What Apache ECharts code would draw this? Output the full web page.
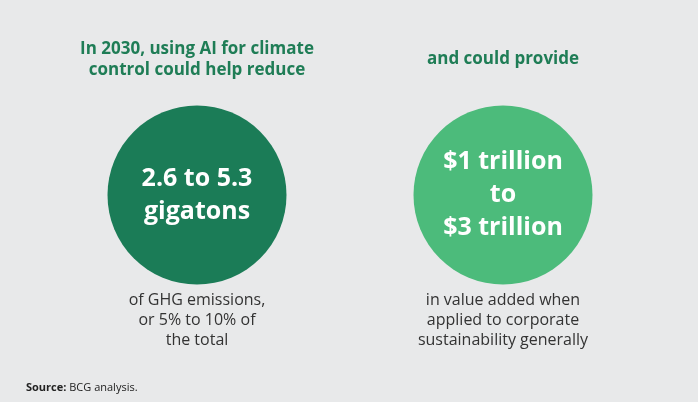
<!DOCTYPE html>
<html>
<head>
<meta charset="utf-8">
<script src="https://cdn.jsdelivr.net/npm/echarts@6/dist/echarts.min.js"></script>
<style>
  html, body { margin: 0; padding: 0; background: #e8e9ea; }
  #main { width: 698px; height: 402px; }
</style>
</head>
<body>
<div id="main"></div>
<script>
var categories = ['reduce', 'provide'];
var headlines = ['In 2030, using AI for climate\ncontrol could help reduce', 'and could provide'];
var values = ['2.6 to 5.3\ngigatons', '$1 trillion\nto\n$3 trillion'];
var captions = ['of GHG emissions,\nor 5% to 10% of\nthe total', 'in value added when\napplied to corporate\nsustainability generally'];
var colors = ['#1b7c57', '#4cbb7b'];

var myChart = echarts.init(document.getElementById('main'));
var font = '"Open Sans", "Noto Sans", sans-serif';
var option = {
    backgroundColor: '#e8e9ea',
    grid: {left: 44, right: 42, top: 106, bottom: 118},
    xAxis: {type: 'category', data: categories, show: false},
    yAxis: {type: 'value', min: -1, max: 1, show: false},
    series: [
        {
            type: 'scatter',
            symbolSize: 179,
            silent: true,
            itemStyle: {opacity: 1},
            data: categories.map(function (c, i) {
                return {
                    value: [c, 0],
                    itemStyle: {color: colors[i], opacity: 1},
                    label: {
                        show: true, position: 'inside', formatter: values[i],
                        color: '#fff', fontSize: 25, fontWeight: 'bold',
                        fontFamily: font, lineHeight: 33
                    }
                };
            })
        }
    ]
};
myChart.setOption(option);

// headline and caption texts placed above / below each circle
var graphics = [
    {type: 'text', left: 26, top: 382, style: {
        text: '{b|Source:} BCG analysis.', fill: '#222', font: '11px ' + font,
        rich: {b: {fontWeight: 'bold', fontSize: 11, fontFamily: font, fill: '#222'}}
    }}
];
categories.forEach(function (c, i) {
    var x = myChart.convertToPixel({gridIndex: 0}, [c, 0])[0];
    graphics.push({type: 'text', x: x, y: i === 0 ? 39 : 49, style: {
        text: headlines[i], fill: '#1f7d56', fontSize: 17, fontWeight: 'bold',
        fontFamily: font, lineHeight: 21, align: 'center', verticalAlign: 'top'
    }});
    graphics.push({type: 'text', x: x, y: 290, style: {
        text: captions[i], fill: '#333', fontSize: 16,
        fontFamily: font, lineHeight: 20, align: 'center', verticalAlign: 'top'
    }});
});
myChart.setOption({graphic: graphics});
</script>
</body>
</html>
